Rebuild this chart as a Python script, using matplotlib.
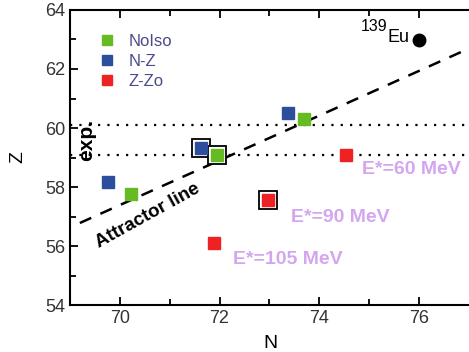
import matplotlib
matplotlib.use("Agg")
import matplotlib.pyplot as plt

plt.rcParams['font.family'] = ['Liberation Sans', 'DejaVu Sans']

noiso_N = [70.22, 71.95, 73.7]
noiso_Z = [57.75, 59.08, 60.32]
nz_N = [69.76, 71.62, 73.37]
nz_Z = [58.17, 59.32, 60.5]
zzo_N = [71.88, 72.98, 74.54]
zzo_Z = [56.1, 57.56, 59.08]
boxed_N = [71.62, 71.95, 72.98]
boxed_Z = [59.32, 59.08, 57.56]
eu_N = [76.0]
eu_Z = [62.98]
exp_Z = [60.1, 59.1]
attractor_N = [69.2, 76.9]
attractor_Z = [56.78, 62.62]
energy_labels = ["E*=60 MeV", "E*=90 MeV", "E*=105 MeV"]
energy_N = [74.85, 73.44, 72.26]
energy_Z = [58.58, 56.95, 55.53]

fig = plt.figure(figsize=(4.69, 3.52), dpi=100)
ax = fig.add_axes([0.149, 0.1335, 0.851, 0.8381])
ax.set_xlim(69, 77)
ax.set_ylim(54, 64)

for z in exp_Z:
    ax.plot([69, 77], [z, z], linestyle=(0, (1, 3.2)), color="black", lw=1.6, zorder=1)
ax.plot(attractor_N, attractor_Z, linestyle=(0, (5, 4)), color="black", lw=1.8, zorder=2)

ax.plot(boxed_N, boxed_Z, 's', ms=13, mfc='white', mec='black', mew=1.3, ls='none', zorder=3)
ax.plot(noiso_N, noiso_Z, 's', ms=8.5, color='#66bb22', ls='none', label='NoIso', zorder=4)
ax.plot(nz_N, nz_Z, 's', ms=8.5, color='#2d4d9d', ls='none', label='N-Z', zorder=4)
ax.plot(zzo_N, zzo_Z, 's', ms=8.5, color='#ee2222', ls='none', label='Z-Zo', zorder=4)
ax.plot(eu_N, eu_Z, 'o', ms=9, color='black', ls='none', zorder=4)
ax.text(75.8, 63.08, 'Eu', fontsize=13, ha='right', va='center')
ax.text(75.36, 63.43, '139', fontsize=11.5, ha='right', va='center')

leg = ax.legend(loc='upper left', bbox_to_anchor=(0.035, 0.97), frameon=False, fontsize=12,
                handletextpad=0.8, labelspacing=0.3, handlelength=1.0, markerscale=0.9)
for t in leg.get_texts():
    t.set_color('#4a4a8a')

ax.text(69.34, 59.58, 'exp.', rotation=90, fontsize=15, fontweight='bold', ha='center', va='center')
ax.text(70.56, 57.02, 'Attractor line', rotation=29, fontsize=13.5, fontweight='bold',
        ha='center', va='center', rotation_mode='anchor')
for lab, n, z in zip(energy_labels, energy_N, energy_Z):
    ax.text(n, z, lab, color='#d4a6f0', fontsize=14, fontweight='bold', ha='left', va='center')

ax.set_xticks([70, 72, 74, 76])
ax.set_yticks([54, 56, 58, 60, 62, 64])
ax.set_xticks([71, 73, 75], minor=True)
ax.set_yticks([55, 57, 59, 61, 63], minor=True)
ax.tick_params(which='both', direction='in', top=True, right=False, width=1.3, labelsize=13,
               labelcolor='#333333')
ax.tick_params(which='major', length=6)
ax.tick_params(which='minor', length=4)
ax.spines['right'].set_visible(False)
for s in ['left', 'bottom', 'top']:
    ax.spines[s].set_linewidth(1.5)
fig.text(270 / 469, 1 - 343 / 352, 'N', fontsize=14, ha='center', va='center')
fig.text(18 / 469, 1 - 157 / 352, 'Z', fontsize=14, rotation=90, ha='center', va='center')

fig.savefig('out.png', dpi=100)
